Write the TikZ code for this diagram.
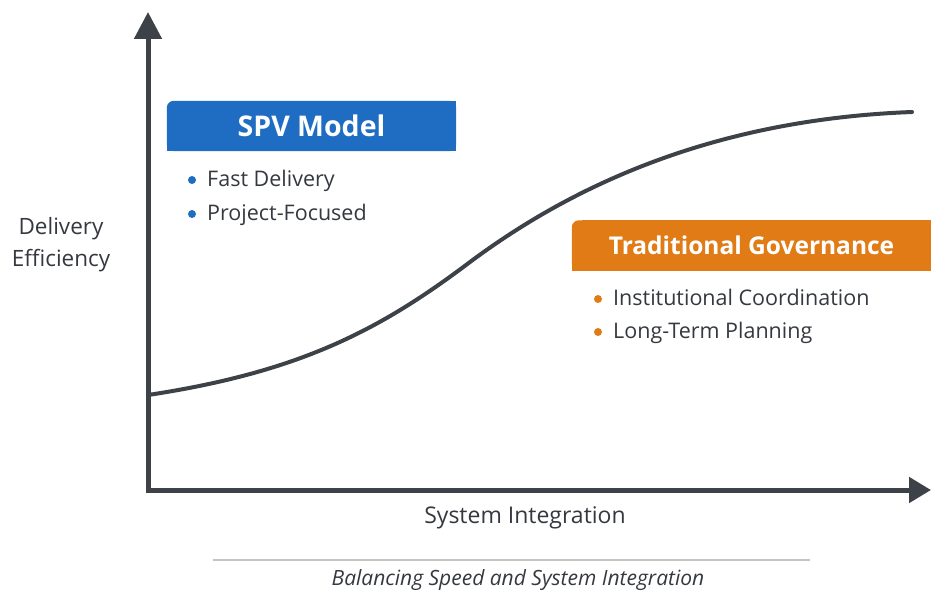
\documentclass[tikz,border=0pt]{standalone}
\usepackage{fontspec}
\setmainfont{Open Sans}
\usetikzlibrary{arrows.meta,positioning,backgrounds}
\definecolor{axisgray}{HTML}{3D4148}
\definecolor{spvblue}{HTML}{1F6DC2}
\definecolor{govorange}{HTML}{E07B16}
\definecolor{rulegray}{HTML}{C4C4C4}
\definecolor{txtgray}{HTML}{35393F}

\begin{document}
\begin{tikzpicture}[x=1pt,y=-1pt,
  axis/.style={line width=5pt,draw=axisgray,line join=miter,
    {Triangle[width=27pt,length=27pt]}-{Triangle[width=25pt,length=22pt]}},
  head box/.style={font=\fontsize{#1}{30}\selectfont\bfseries,text=white,
    minimum height=50pt,inner sep=0pt},
  item/.style={font=\fontsize{21.5}{25}\selectfont,text=txtgray,anchor=base west,inner sep=0pt},
  bullet/.style={circle,fill=#1,inner sep=0pt,minimum size=8pt},
  axis name/.style={font=\fontsize{22.5}{32}\selectfont,text=txtgray,align=center,inner sep=0pt}]

  \useasboundingbox (0,0) rectangle (931,594);

  % axes
  \coordinate (origin) at (148,490);
  \coordinate (ytip) at (148,12);
  \coordinate (xtip) at (931,490);
  \draw[axis] (ytip) -- (origin) -- (xtip);

  % s-curve
  \draw[line width=4pt,axisgray,line cap=round]
    (148,395) .. controls (300,372) and (380,330) .. (470,262)
              .. controls (560,195) and (700,120) .. (912,112);

  % headers
  \node[head box=28.5,minimum width=289pt] (spv) at (311.5,126) {SPV Model};
  \node[head box=24.5,minimum width=359pt] (trad) at (751.5,245.5) {Traditional Governance};
  \begin{scope}[on background layer]
    \foreach \hb/\col in {spv/spvblue,trad/govorange} {
      \fill[\col,rounded corners=7pt] (\hb.north west) rectangle (\hb.south east);
      \fill[\col] ([xshift=10pt]\hb.north west) rectangle (\hb.south east);
      \fill[\col] (\hb.west) rectangle (\hb.south east);
    }
  \end{scope}

  % bullet lists
  \node[item] (fast) at (207,186) {Fast Delivery};
  \node[item] (proj) at ([yshift=-34pt]fast.base west) {Project-Focused};
  \node[item] (inst) at (613,305) {Institutional Coordination};
  \node[item] (long) at ([yshift=-33pt]inst.base west) {Long-Term Planning};
  \foreach \it/\col in {fast/spvblue,proj/spvblue,inst/govorange,long/govorange}
    \node[bullet=\col] at ([xshift=-15pt,yshift=6pt]\it.base west) {};

  % axis names
  \node[axis name] (yname) at (61,245) {Delivery\\Efficiency};
  \node[axis name,font=\fontsize{23}{28}\selectfont] (xname) at (525,518) {System Integration};

  % caption
  \coordinate (ruleA) at (213,560);
  \coordinate (ruleB) at (810,560);
  \draw[rulegray,line width=1.2pt] (ruleA) -- (ruleB);
  \node[font=\fontsize{21}{24}\selectfont\itshape,text=txtgray] (caption) at (518,580)
    {Balancing Speed and System Integration};
\end{tikzpicture}
\end{document}
